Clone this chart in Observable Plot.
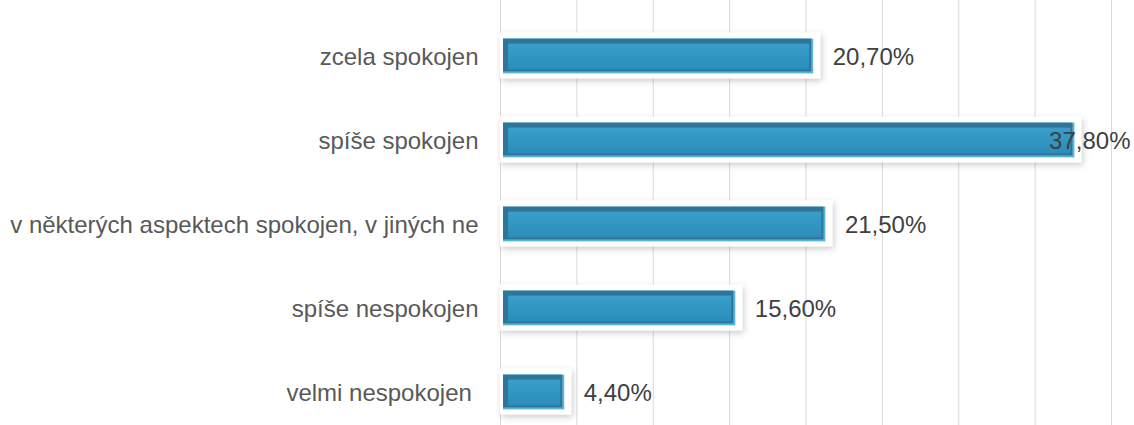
<!DOCTYPE html>
<html>
<head>
<meta charset="utf-8">
<script src="https://cdn.jsdelivr.net/npm/d3@7"></script>
<script src="https://cdn.jsdelivr.net/npm/@observablehq/plot@0.6"></script>
<style>
  html, body { margin: 0; padding: 0; background: #fff; }
</style>
</head>
<body>
<div id="chart"></div>
<script>
const categories = [
  "zcela spokojen",
  "spíše spokojen",
  "v některých aspektech spokojen, v jiných ne",
  "spíše nespokojen",
  "velmi nespokojen"
];
const values = [20.7, 37.8, 21.5, 15.6, 4.4];
const valueLabels = ["20,70%", "37,80%", "21,50%", "15,60%", "4,40%"];
const xTicks = [0, 5, 10, 15, 20, 25, 30, 35, 40];

const data = categories.map((c, i) => ({cat: c, value: values[i], label: valueLabels[i]}));

const font = "'Liberation Sans', Arial, Helvetica, sans-serif";
const fs = 24;
const bandInset = 24.6;
const bevel = 5;

const chart = Plot.plot({
  width: 1134,
  height: 425,
  marginLeft: 500,
  marginRight: 23,
  marginTop: 0,
  marginBottom: 0,
  style: {fontFamily: font, background: "#fff"},
  x: {domain: [0, 40], axis: null},
  y: {domain: categories, range: [13.4, 434.6], padding: 0, axis: null},
  marks: [
    Plot.ruleX(xTicks, {stroke: "#d9d9d9", strokeWidth: 1}),
    // white halo with shadow
    Plot.barX(data, {y: "cat", x1: 0, x2: "value", fill: "#ffffff",
      insetTop: bandInset - 6, insetBottom: bandInset - 5, insetLeft: 0, insetRight: -4}),
    // light bevel (bottom/right)
    Plot.barX(data, {y: "cat", x1: 0, x2: "value", fill: "#5ab4da",
      insetTop: bandInset, insetBottom: bandInset, insetLeft: 3, insetRight: 3}),
    // dark bevel (top/left)
    Plot.barX(data, {y: "cat", x1: 0, x2: "value", fill: "#2d7699",
      insetTop: bandInset, insetBottom: bandInset + 2, insetLeft: 3, insetRight: 5}),
    // main face
    Plot.barX(data, {y: "cat", x1: 0, x2: "value", fill: "#2f93c0",
      insetTop: bandInset + bevel, insetBottom: bandInset + bevel - 1,
      insetLeft: 3 + bevel, insetRight: 3 + bevel - 1}),
    // category labels
    Plot.text(data, {y: "cat", text: d => d.cat === "velmi nespokojen" ? d.cat + "\u00a0" : d.cat,
      frameAnchor: "left", textAnchor: "end", dx: -22, dy: 1,
      fontSize: fs, fill: "#595959"}),
    // value labels
    Plot.text(data.filter(d => d.value < 36), {y: "cat", x: "value", text: "label",
      textAnchor: "start", dx: 16, dy: 1, fontSize: fs, fill: "#404040"}),
    Plot.text(data.filter(d => d.value >= 36), {y: "cat", text: "label",
      frameAnchor: "right", textAnchor: "end", dx: 19, dy: 1, fontSize: fs, fill: "#404040"})
  ]
});

document.getElementById("chart").appendChild(chart);

// gradient + shadow definitions
const svg = d3.select(chart);
const defs = svg.insert("defs", ":first-child");
const grad = defs.append("linearGradient").attr("id", "barGrad")
  .attr("x1", 0).attr("y1", 0).attr("x2", 0).attr("y2", 1);
grad.append("stop").attr("offset", "0%").attr("stop-color", "#3a9ec9");
grad.append("stop").attr("offset", "100%").attr("stop-color", "#2a8dbb");
const filt = defs.append("filter").attr("id", "haloShadow")
  .attr("x", "-10%").attr("y", "-40%").attr("width", "120%").attr("height", "180%");
filt.append("feDropShadow").attr("dx", 1.5).attr("dy", 2.5).attr("stdDeviation", 3)
  .attr("flood-color", "#000").attr("flood-opacity", 0.2);

const barGroups = svg.selectAll('g[aria-label="bar"]').nodes();
if (barGroups.length >= 4) {
  d3.select(barGroups[0]).attr("filter", "url(#haloShadow)");
  d3.select(barGroups[3]).attr("fill", "url(#barGrad)").selectAll("rect").attr("fill", "url(#barGrad)");
}
</script>
</body>
</html>
